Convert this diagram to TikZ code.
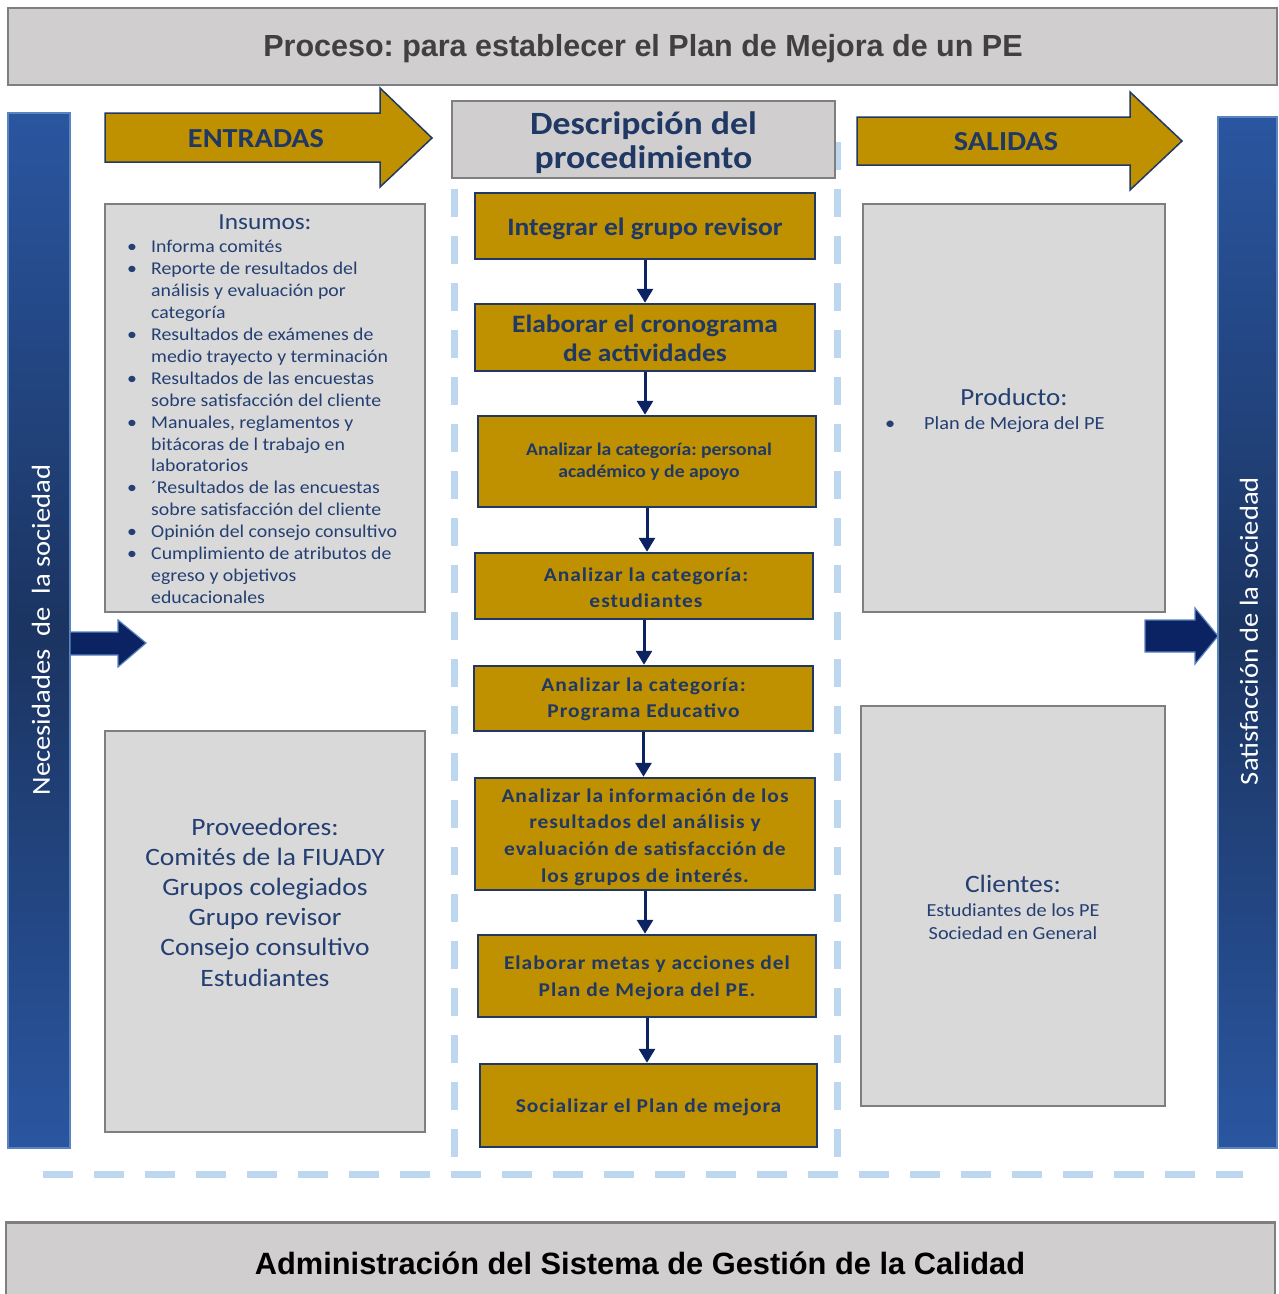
\documentclass[tikz,border=0pt]{standalone}
\usepackage{fontspec}
\setmainfont{Carlito}[FakeStretch=1.1]
\newfontfamily\arialfont{Liberation Sans}
\newfontfamily\spacedfont{Carlito}[LetterSpace=5,FakeStretch=1.1]
\usetikzlibrary{arrows.meta}
\frenchspacing
\definecolor{navy}{HTML}{1F3864}
\definecolor{arrnavy}{HTML}{0B2362}
\definecolor{goldc}{HTML}{BF9000}
\definecolor{hdrgray}{HTML}{D0CECE}
\definecolor{boxgray}{HTML}{D9D9D9}
\definecolor{bordgray}{HTML}{7F7F7F}
\definecolor{dashblue}{HTML}{BDD7EE}
\definecolor{bartop}{HTML}{2A56A0}
\definecolor{barmid}{HTML}{1B3461}
\definecolor{baredge}{HTML}{5A84BE}
\definecolor{txtnavy}{HTML}{243F72}
\definecolor{hdrtext}{HTML}{404040}
\newcommand{\bul}{\makebox[24pt][l]{•}}
\newcommand{\ind}{\hspace*{24pt}}
\begin{document}
\begin{tikzpicture}[x=1pt,y=-1pt,
  hdrbox/.style={draw=bordgray, line width=2.5pt, fill=hdrgray, inner sep=0pt},
  graybox/.style={draw=bordgray, line width=2.5pt, fill=boxgray, inner sep=0pt},
  goldbox/.style={draw=navy, line width=2.5pt, fill=goldc, inner sep=0pt},
  goldtxt/.style={text=navy, align=center, inner sep=0pt},
  sidebar/.style={draw=baredge, line width=1.5pt, top color=bartop, bottom color=bartop, middle color=barmid, inner sep=0pt},
  flow/.style={draw=arrnavy, line width=3pt, -{Triangle[width=16pt,length=14pt]}},
  dashln/.style={draw=dashblue, line width=7pt, dash pattern=on 28pt off 19pt},
  hdashln/.style={draw=dashblue, line width=7pt, dash pattern=on 30pt off 21pt},
  bigarrow/.style={fill=goldc, draw=navy, line width=1.5pt},
  smallarrow/.style={fill=arrnavy, draw=baredge, line width=1.2pt},
  boxtxt/.style={text=txtnavy, inner sep=0pt}
]
\useasboundingbox (0,0) rectangle (1279,1294);
\fill[white] (0,0) rectangle (1279,1294);

% header
\node[hdrbox, minimum width=1269pt, minimum height=77pt] (title) at (642.5,46.5) {};
\node[text=hdrtext, font=\arialfont\bfseries\fontsize{30.5}{34}\selectfont] (titletxt) at (643,48.5) {Proceso: para establecer el Plan de Mejora de un PE};

% dashed frame
\draw[dashln] (454,142) -- (454,1160);
\draw[dashln] (837,142) -- (837,1160);
\draw[hdashln] (43,1174) -- (1243,1174);

% side bars
\node[sidebar, minimum width=62pt, minimum height=1035pt] (lbar) at (39,630.5) {};
\node[rotate=90, text=white, font=\fontsize{26}{30}\selectfont] (lbartxt) at (41,630) {Necesidades\ \ de\ \ la sociedad};
\node[sidebar, minimum width=59pt, minimum height=1031pt] (rbar) at (1247.5,632.5) {};
\node[rotate=90, text=white, font=\fontsize{26}{30}\selectfont] (rbartxt) at (1249,631) {Satisfacción de la sociedad};

% big arrows
\draw[bigarrow] (105,113) -- (380,113) -- (380,88) -- (432,138) -- (380,187) -- (380,162) -- (105,162) -- cycle;
\node[text=navy, font=\bfseries\fontsize{27.5}{30}\selectfont] (entradas) at (256,139) {ENTRADAS};
\draw[bigarrow] (857,117) -- (1130,117) -- (1130,92) -- (1182,141) -- (1130,190) -- (1130,165) -- (857,165) -- cycle;
\node[text=navy, font=\bfseries\fontsize{27.5}{30}\selectfont] (salidas) at (1006,142) {SALIDAS};

% descripcion
\node[hdrbox, minimum width=383pt, minimum height=77pt] (desc) at (643.5,139.5) {};
\node[text=navy, align=center, font=\bfseries\fontsize{32.5}{34}\selectfont] (desctxt) at (643.5,142.5) {Descripción del\\procedimiento};

% small arrows
\draw[smallarrow] (70,632) -- (118,632) -- (118,620) -- (146,643) -- (118,667) -- (118,655) -- (70,655) -- cycle;
\draw[smallarrow] (1145,620) -- (1195,620) -- (1195,608) -- (1218,636) -- (1195,664) -- (1195,652) -- (1145,652) -- cycle;

% insumos
\node[graybox, minimum width=320pt, minimum height=408pt] (insumos) at (265,408) {};
\node[boxtxt, anchor=base, font=\fontsize{23}{25}\selectfont] (instit) at (265,229) {Insumos:};
\node[boxtxt, anchor=north west, align=left, font=\fontsize{18}{21.94}\selectfont] (inslist) at (127,240) {%
\bul Informa comités\\
\bul Reporte de resultados del\\
\ind análisis y evaluación por\\
\ind categoría\\
\bul Resultados de exámenes de\\
\ind medio trayecto y terminación\\
\bul Resultados de las encuestas\\
\ind sobre satisfacción del cliente\\
\bul Manuales, reglamentos y\\
\ind bitácoras de l trabajo en\\
\ind laboratorios\\
\bul ´Resultados de las encuestas\\
\ind sobre satisfacción del cliente\\
\bul Opinión del consejo consultivo\\
\bul Cumplimiento de atributos de\\
\ind egreso y objetivos\\
\ind educacionales};

% proveedores
\node[graybox, minimum width=320pt, minimum height=401pt] (prov) at (265,931.5) {};
\node[boxtxt, align=center, font=\fontsize{25}{30.2}\selectfont] (provtxt) at (265,902) {Proveedores:\\Comités de la FIUADY\\Grupos colegiados\\Grupo revisor\\Consejo consultivo\\Estudiantes};

% producto
\node[graybox, minimum width=302pt, minimum height=408pt] (prod) at (1014,408) {};
\node[boxtxt, anchor=base, font=\fontsize{24.6}{27}\selectfont] (prodtit) at (1014,405) {Producto:};
\node[boxtxt, anchor=base west, font=\fontsize{18.5}{20}\selectfont] (prodtxt) at (885,429) {\makebox[39pt][l]{•}Plan de Mejora del PE};

% clientes
\node[graybox, minimum width=304pt, minimum height=400pt] (cli) at (1013,906) {};
\node[boxtxt, anchor=base, font=\fontsize{25}{27}\selectfont] (clitit) at (1013,892) {Clientes:};
\node[boxtxt, anchor=base, font=\fontsize{18.4}{20}\selectfont] (cli1) at (1013,916) {Estudiantes de los PE};
\node[boxtxt, anchor=base, font=\fontsize{18.4}{20}\selectfont] (cli2) at (1013,939) {Sociedad en General};

% process boxes
\node[goldbox, minimum width=340pt, minimum height=66pt] (b1) at (645,226) {};
\node[goldtxt, font=\bfseries\fontsize{25}{26}\selectfont] (t1) at (645,229) {Integrar el grupo revisor};
\node[goldbox, minimum width=340pt, minimum height=67pt] (b2) at (645,337.5) {};
\node[goldtxt, font=\bfseries\fontsize{25}{29}\selectfont] (t2) at (645,338.5) {Elaborar el cronograma\\de actividades};
\node[goldbox, minimum width=338pt, minimum height=91pt] (b3) at (647,461.5) {};
\node[goldtxt, font=\bfseries\fontsize{17.9}{22}\selectfont] (t3) at (649,462) {Analizar la categoría: personal\\académico y de apoyo};
\node[goldbox, minimum width=338pt, minimum height=66pt] (b4) at (644,586) {};
\node[goldtxt, font=\spacedfont\bfseries\fontsize{19.5}{26.5}\selectfont] (t4) at (646,587.5) {Analizar la categoría:\\estudiantes};
\node[goldbox, minimum width=339pt, minimum height=65pt] (b5) at (643.5,698.5) {};
\node[goldtxt, font=\spacedfont\bfseries\fontsize{19.5}{26.5}\selectfont] (t5) at (643.5,699.5) {Analizar la categoría:\\Programa Educativo};
\node[goldbox, minimum width=340pt, minimum height=112pt] (b6) at (645,834) {};
\node[goldtxt, font=\spacedfont\bfseries\fontsize{19.5}{26.7}\selectfont] (t6) at (645,837) {Analizar la información de los\\resultados del análisis y\\evaluación de satisfacción de\\los grupos de interés.};
\node[goldbox, minimum width=338pt, minimum height=82pt] (b7) at (647,976) {};
\node[goldtxt, font=\spacedfont\bfseries\fontsize{19.5}{26.5}\selectfont] (t7) at (647,978) {Elaborar metas y acciones del\\Plan de Mejora del PE.};
\node[goldbox, minimum width=337pt, minimum height=83pt] (b8) at (648.5,1105.5) {};
\node[goldtxt, font=\spacedfont\bfseries\fontsize{19.5}{26.5}\selectfont] (t8) at (648.5,1107.5) {Socializar el Plan de mejora};

\foreach \a/\b in {b1/b2,b2/b3,b3/b4,b4/b5,b5/b6,b6/b7,b7/b8}
  \draw[flow] (\a.south) -- (\a.south |- \b.north);

% bottom
\node[hdrbox, minimum width=1269pt, minimum height=90pt, anchor=north] (admin) at (640.5,1221) {};
\node[text=black, font=\arialfont\bfseries\fontsize{30.8}{34}\selectfont] (admintxt) at (640,1263) {Administración del Sistema de Gestión de la Calidad};
\end{tikzpicture}
\end{document}
